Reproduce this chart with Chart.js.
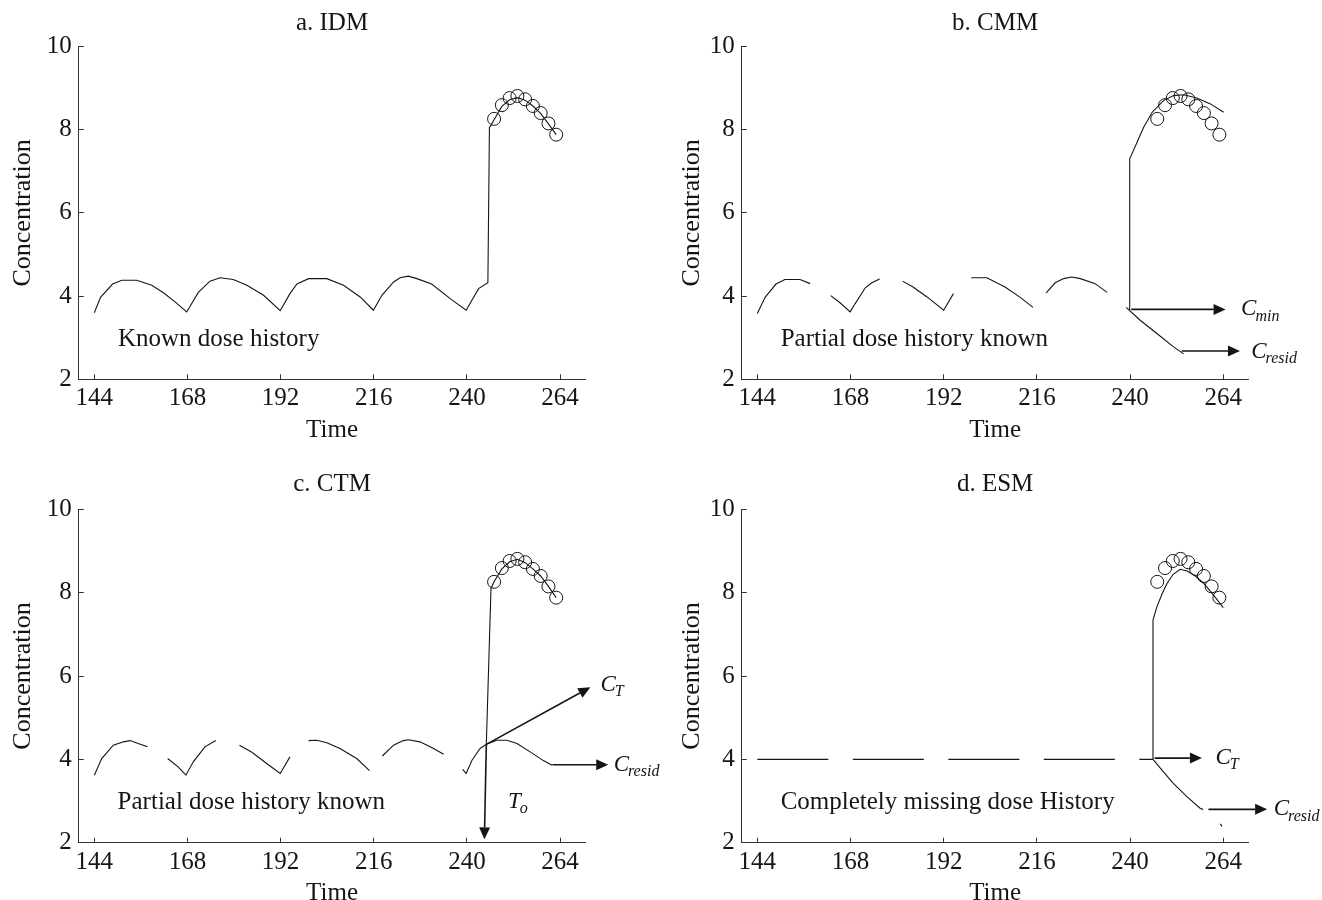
<!DOCTYPE html>
<html>
<head>
<meta charset="utf-8">
<script src="https://cdn.jsdelivr.net/npm/chart.js@4.4.1/dist/chart.umd.min.js"></script>
<style>
html,body{margin:0;padding:0;background:#fff;width:1322px;height:900px;overflow:hidden;position:relative}
canvas{position:absolute;display:block}
</style>
</head>
<body>
<canvas id="ca" width="700" height="450" style="left:0;top:0"></canvas>
<canvas id="cb" width="662" height="450" style="left:660px;top:0"></canvas>
<canvas id="cc" width="700" height="463" style="left:0;top:450px"></canvas>
<canvas id="cd" width="662" height="463" style="left:660px;top:450px"></canvas>
<script>
// ---------- data ----------
const xTicks = [144, 168, 192, 216, 240, 264];
const yTicks = [2, 4, 6, 8, 10];
const xLabel = 'Time';
const yLabel = 'Concentration';
const titles = ['a. IDM', 'b. CMM', 'c. CTM', 'd. ESM'];

// observed concentrations (circles), same in every panel
const obsTime = [247, 249, 251, 253, 255, 257, 259, 261, 263];
const obsConc = [8.26, 8.59, 8.76, 8.81, 8.73, 8.57, 8.40, 8.15, 7.88];

// a. IDM – known dose history
const idmTime = [144,145.6,148.7,151.1,154.9,158.8,161.8,164.8,167.8,170.8,173.8,176.4,179.8,183.3,187.6,191.9,194.4,196.2,199.2,203.9,208.2,212.5,215.9,218.1,221.1,222.8,224.9,227.1,230.9,235.7,239.8,243.0,245.4,245.8,247,249,251,253,255,257,259,261,263];
const idmConc = [3.60,3.97,4.29,4.38,4.38,4.26,4.08,3.86,3.62,4.09,4.36,4.44,4.40,4.26,4.02,3.65,4.06,4.29,4.42,4.42,4.26,3.98,3.66,4.02,4.34,4.44,4.48,4.42,4.29,3.94,3.66,4.18,4.32,8.05,8.24,8.56,8.72,8.77,8.71,8.57,8.39,8.14,7.88];

// b. CMM – partial dose history
const cmmTime = [144,146.0,148.8,151.1,155.0,157.6,160,162.9,165.3,167.9,169.2,171.8,173.5,175.5,178,181.4,184.1,187.7,192.0,194.5,197,199.1,203.1,207.8,211.7,215.0,217,218.4,220.7,222.9,225.0,227.2,231.0,234.1];
const cmmConc = [3.58,3.97,4.29,4.40,4.40,4.30,null,4.01,3.84,3.62,3.82,4.20,4.32,4.41,null,4.36,4.22,3.98,3.66,4.06,null,4.44,4.44,4.22,3.97,3.73,null,4.08,4.32,4.42,4.46,4.42,4.30,4.09];
const cmmPeakTime = [239.9,239.9,241.8,243.5,245.7,248.6,251.2,253.8,257.2,260.7,264.1];
const cmmPeakConc = [3.66,7.30,7.70,8.06,8.42,8.70,8.82,8.84,8.76,8.62,8.42];
const cmmResidTime = [239.0,242.6,246.9,251.2,253.8];
const cmmResidConc = [3.73,3.42,3.10,2.78,2.61];

// c. CTM – partial dose history
const ctmTime = [144,145.9,148.9,151.5,153.2,155.3,157.7,160,162.9,165.6,167.6,169.5,172.5,175.3,178,181.4,184.6,188.4,191.9,194.4,197,199.2,201.3,203.9,207.3,211.6,214.9,216.5,218.2,221.1,223.6,224.9,227.9,231.4,234.0,236,238.9,239.8,241.3,243.4,245.0,247.7,250.3,252.9,256.3,259.7,261.9];
const ctmConc = [3.62,4.02,4.34,4.42,4.45,4.38,4.30,null,4.02,3.82,3.62,3.94,4.30,4.45,null,4.34,4.17,3.90,3.66,4.06,null,4.45,4.46,4.40,4.26,4.02,3.73,null,4.08,4.34,4.45,4.47,4.42,4.26,4.12,null,3.76,3.66,3.98,4.26,4.36,4.46,4.46,4.38,4.18,3.97,3.86];
const ctmPeakTime = [245.0,246.2,247,249,251,253,255,257,259,261,263];
const ctmPeakConc = [4.36,8.10,8.26,8.57,8.74,8.80,8.72,8.57,8.40,8.15,7.88];

// d. ESM – completely missing dose history
const esmDoseTime = [144, 245.9];
const esmDoseConc = [4.0, 4.0];
const esmPeakTime = [245.9,245.9,246.9,248.2,249.5,251.1,252.9,254.7,256.8,259.0,261.5,264.0];
const esmPeakConc = [4.0,7.34,7.66,7.96,8.22,8.44,8.56,8.52,8.40,8.22,7.94,7.64];
const esmResidTime = [245.9,248.6,251.2,254.7,258.1,258.8];
const esmResidConc = [4.0,3.70,3.42,3.10,2.82,2.80];
const esmTailTime = [263.2, 263.7];
const esmTailConc = [2.45, 2.39];

// annotation texts and anchor points (data units)
const notesA = [['Known dose history', 150.1, 2.97]];
const notesB = [['Partial dose history known', 150.0, 2.97]];
const notesC = [['Partial dose history known', 150.0, 2.97]];
const notesD = [['Completely missing dose History', 150.0, 2.97]];
// arrows: [fromTime, fromConc, toTime, toConc]
const arrowsB = [[240.3, 3.68, 264.6, 3.68], [253.3, 2.68, 268.3, 2.68]];
const arrowsC = [[245.0, 4.36, 271.8, 5.73], [262.0, 3.87, 276.4, 3.87], [245.0, 4.36, 244.5, 2.08]];
const arrowsD = [[246.3, 4.03, 258.5, 4.03], [260.2, 2.80, 275.3, 2.80]];
// symbols: [main, subscript, time, conc]
const symbolsB = [['C', 'min', 268.6, 3.68], ['C', 'resid', 271.2, 2.66]];
const symbolsC = [['C', 'T', 274.4, 5.78], ['C', 'resid', 277.8, 3.86], ['T', 'o', 250.6, 2.98]];
const symbolsD = [['C', 'T', 262.0, 4.03], ['C', 'resid', 277.0, 2.80]];

// ---------- rendering ----------
const FONT = '"Liberation Serif", "Times New Roman", serif';
const INK = '#151515';
const AXIS = '#333333';
const FS = 25;
const toXY = (xs, ys) => xs.map((x, i) => ({ x: x, y: ys[i] }));
const line = (xs, ys, extra) => Object.assign({
  data: toXY(xs, ys), borderColor: INK, borderWidth: 1.1, pointRadius: 0,
  fill: false, tension: 0, spanGaps: false
}, extra || {});
const circles = () => ({
  data: toXY(obsTime, obsConc), showLine: false, pointStyle: 'circle',
  pointRadius: 6.5, pointBorderWidth: 1, pointBorderColor: INK,
  pointBackgroundColor: 'rgba(0,0,0,0)', borderColor: INK
});

const overlay = {
  id: 'overlay',
  afterDatasetsDraw(chart, args, opts) {
    const ctx = chart.ctx, xs = chart.scales.x, ys = chart.scales.y;
    const px = v => xs.getPixelForValue(v), py = v => ys.getPixelForValue(v);
    ctx.save();
    ctx.fillStyle = INK; ctx.strokeStyle = INK;
    ctx.textAlign = 'left'; ctx.textBaseline = 'middle';
    (opts.notes || []).forEach(n => {
      ctx.font = FS + 'px ' + FONT;
      ctx.fillText(n[0], px(n[1]), py(n[2]));
    });
    (opts.arrows || []).forEach(a => {
      const x1 = px(a[0]), y1 = py(a[1]), x2 = px(a[2]), y2 = py(a[3]);
      const ang = Math.atan2(y2 - y1, x2 - x1);
      const hl = 12, hw = 5.5;
      const c = Math.cos(ang), s = Math.sin(ang);
      ctx.lineWidth = 1.6;
      ctx.beginPath(); ctx.moveTo(x1, y1); ctx.lineTo(x2 - hl * c, y2 - hl * s); ctx.stroke();
      ctx.beginPath();
      ctx.moveTo(x2, y2);
      ctx.lineTo(x2 - hl * c + hw * s, y2 - hl * s - hw * c);
      ctx.lineTo(x2 - hl * c - hw * s, y2 - hl * s + hw * c);
      ctx.closePath(); ctx.fill();
    });
    (opts.symbols || []).forEach(sy => {
      const x = px(sy[2]), y = py(sy[3]);
      ctx.font = 'italic 23px ' + FONT;
      ctx.fillText(sy[0], x, y);
      const w = ctx.measureText(sy[0]).width;
      ctx.font = 'italic 16px ' + FONT;
      ctx.fillText(sy[1], x + w - 1, y + 7);
    });
    ctx.restore();
  }
};

function makeChart(id, p) {
  const canvas = document.getElementById(id);
  return new Chart(canvas, {
    type: 'line',
    data: { datasets: p.datasets },
    plugins: [overlay],
    options: {
      responsive: false, animation: false, devicePixelRatio: 1,
      layout: { padding: { top: p.padT, left: 0, right: canvas.width - p.right, bottom: 0 } },
      plugins: {
        legend: { display: false }, tooltip: { enabled: false },
        title: { display: true, text: p.title, fullSize: false, color: INK,
                 font: { family: FONT, size: FS, weight: 'normal', lineHeight: 1.2 },
                 padding: { top: 0, bottom: p.titleB } },
        overlay: { notes: p.notes, arrows: p.arrows, symbols: p.symbols }
      },
      scales: {
        x: {
          type: 'linear', min: 140, max: 270.5,
          afterBuildTicks: s => { s.ticks = xTicks.map(v => ({ value: v })); },
          afterFit: s => { s.height = canvas.height - p.bottom; },
          ticks: { color: INK, font: { family: FONT, size: FS, lineHeight: 1.2 }, padding: 9.5, maxRotation: 0, autoSkip: false },
          grid: { drawOnChartArea: false, drawTicks: true, tickLength: -5, color: AXIS, lineWidth: 1 },
          border: { display: true, color: AXIS, width: 1 },
          title: { display: true, text: xLabel, color: INK, font: { family: FONT, size: FS, lineHeight: 1.2 }, padding: { top: 0, bottom: 4.5 } }
        },
        y: {
          type: 'linear', min: 2, max: 10,
          afterBuildTicks: s => { s.ticks = yTicks.map(v => ({ value: v })); },
          afterFit: s => { s.width = p.left; },
          ticks: { color: INK, font: { family: FONT, size: FS, lineHeight: 1.2 }, padding: 12 },
          grid: { drawOnChartArea: false, drawTicks: true, tickLength: -5, color: AXIS, lineWidth: 1 },
          border: { display: true, color: AXIS, width: 1 },
          title: { display: true, text: yLabel, color: INK, font: { family: FONT, size: 26, lineHeight: 1.2 }, padding: { top: p.yTitlePad, bottom: 0 } }
        }
      }
    }
  });
}

makeChart('ca', {
  title: titles[0], left: 78.8, right: 585.3, bottom: 379.3, padT: 8.5, titleB: 8.0, yTitlePad: 8.0,
  datasets: [line(idmTime, idmConc), circles()],
  notes: notesA, arrows: [], symbols: []
});
makeChart('cb', {
  title: titles[1], left: 81.8, right: 588.5, bottom: 379.3, padT: 8.5, titleB: 8.0, yTitlePad: 16.5,
  datasets: [line(cmmTime, cmmConc), line(cmmPeakTime, cmmPeakConc), line(cmmResidTime, cmmResidConc), circles()],
  notes: notesB, arrows: arrowsB, symbols: symbolsB
});
makeChart('cc', {
  title: titles[2], left: 78.8, right: 585.3, bottom: 392.7, padT: 19.5, titleB: 9.8, yTitlePad: 8.0,
  datasets: [line(ctmTime, ctmConc), line(ctmPeakTime, ctmPeakConc), circles()],
  notes: notesC, arrows: arrowsC, symbols: symbolsC
});
makeChart('cd', {
  title: titles[3], left: 81.8, right: 588.5, bottom: 392.7, padT: 19.5, titleB: 9.8, yTitlePad: 16.5,
  datasets: [line(esmDoseTime, esmDoseConc, { borderDash: [71, 24.5] }), line(esmPeakTime, esmPeakConc),
             line(esmResidTime, esmResidConc), line(esmTailTime, esmTailConc), circles()],
  notes: notesD, arrows: arrowsD, symbols: symbolsD
});
</script>
</body>
</html>
